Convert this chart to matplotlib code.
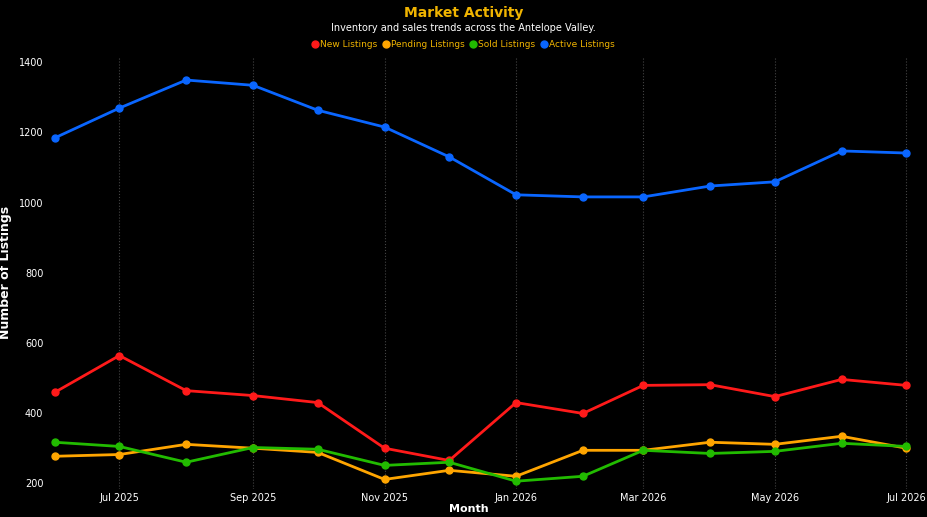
import matplotlib
matplotlib.use("Agg")
import matplotlib.pyplot as plt
import pandas as pd

months = pd.date_range("2025-06-01", "2026-07-01", freq="MS")
active = [1184, 1269, 1349, 1334, 1263, 1215, 1130, 1022, 1016, 1016, 1047, 1059, 1147, 1141]
new = [459, 564, 464, 450, 430, 300, 265, 430, 399, 479, 481, 447, 496, 479]
pending = [277, 282, 311, 300, 288, 211, 237, 220, 294, 294, 317, 311, 334, 300]
sold = [317, 305, 260, 302, 297, 251, 260, 206, 220, 294, 285, 291, 314, 305]

tick_months = pd.date_range("2025-07-01", "2026-07-01", freq="2MS")
tick_labels = [d.strftime("%b %Y") for d in tick_months]

fig = plt.figure(figsize=(9.27, 5.17), dpi=100, facecolor="black")
ax = fig.add_axes([0.052, 0.055, 0.935, 0.835], facecolor="black")

series = [("New Listings", new, "#ff1a1a"), ("Pending Listings", pending, "#ffa500"),
          ("Sold Listings", sold, "#22bb00"), ("Active Listings", active, "#0a66ff")]
for name, vals, c in series:
    ax.plot(months, vals, color=c, lw=2, marker="o", ms=5, label=name)

ax.set_xticks(tick_months)
ax.set_xticklabels(tick_labels)
ax.set_xlim(months[0] - pd.Timedelta(days=3), months[-1] + pd.Timedelta(days=4))
ax.set_ylim(185, 1415)
ax.set_yticks(range(200, 1401, 200))
ax.tick_params(colors="white", labelsize=7, length=0)
for s in ax.spines.values():
    s.set_visible(False)
ax.grid(axis="x", color="#444444", ls=":", lw=0.8)
ax.set_ylabel("Number of Listings", color="white", fontsize=9, fontweight="bold")
ax.yaxis.set_label_coords(-0.042, 0.5)
ax.set_xlabel("Month", color="white", fontsize=8, fontweight="bold", labelpad=2)
ax.xaxis.set_label_coords(0.485, -0.035)

fig.text(0.5, 0.975, "Market Activity", color="#f0b400", fontsize=10, fontweight="bold", ha="center", va="center")
fig.text(0.5, 0.945, "Inventory and sales trends across the Antelope Valley.", color="white", fontsize=7, ha="center", va="center")
leg = fig.legend(loc="center", bbox_to_anchor=(0.5, 0.913), ncol=4, frameon=False, fontsize=6.5,
                 handlelength=0.6, handletextpad=0.3, columnspacing=0.6)
for h in leg.legend_handles:
    h.set_linestyle("none")
for t in leg.get_texts():
    t.set_color("#f0b400")

fig.savefig("out.png", facecolor="black")
